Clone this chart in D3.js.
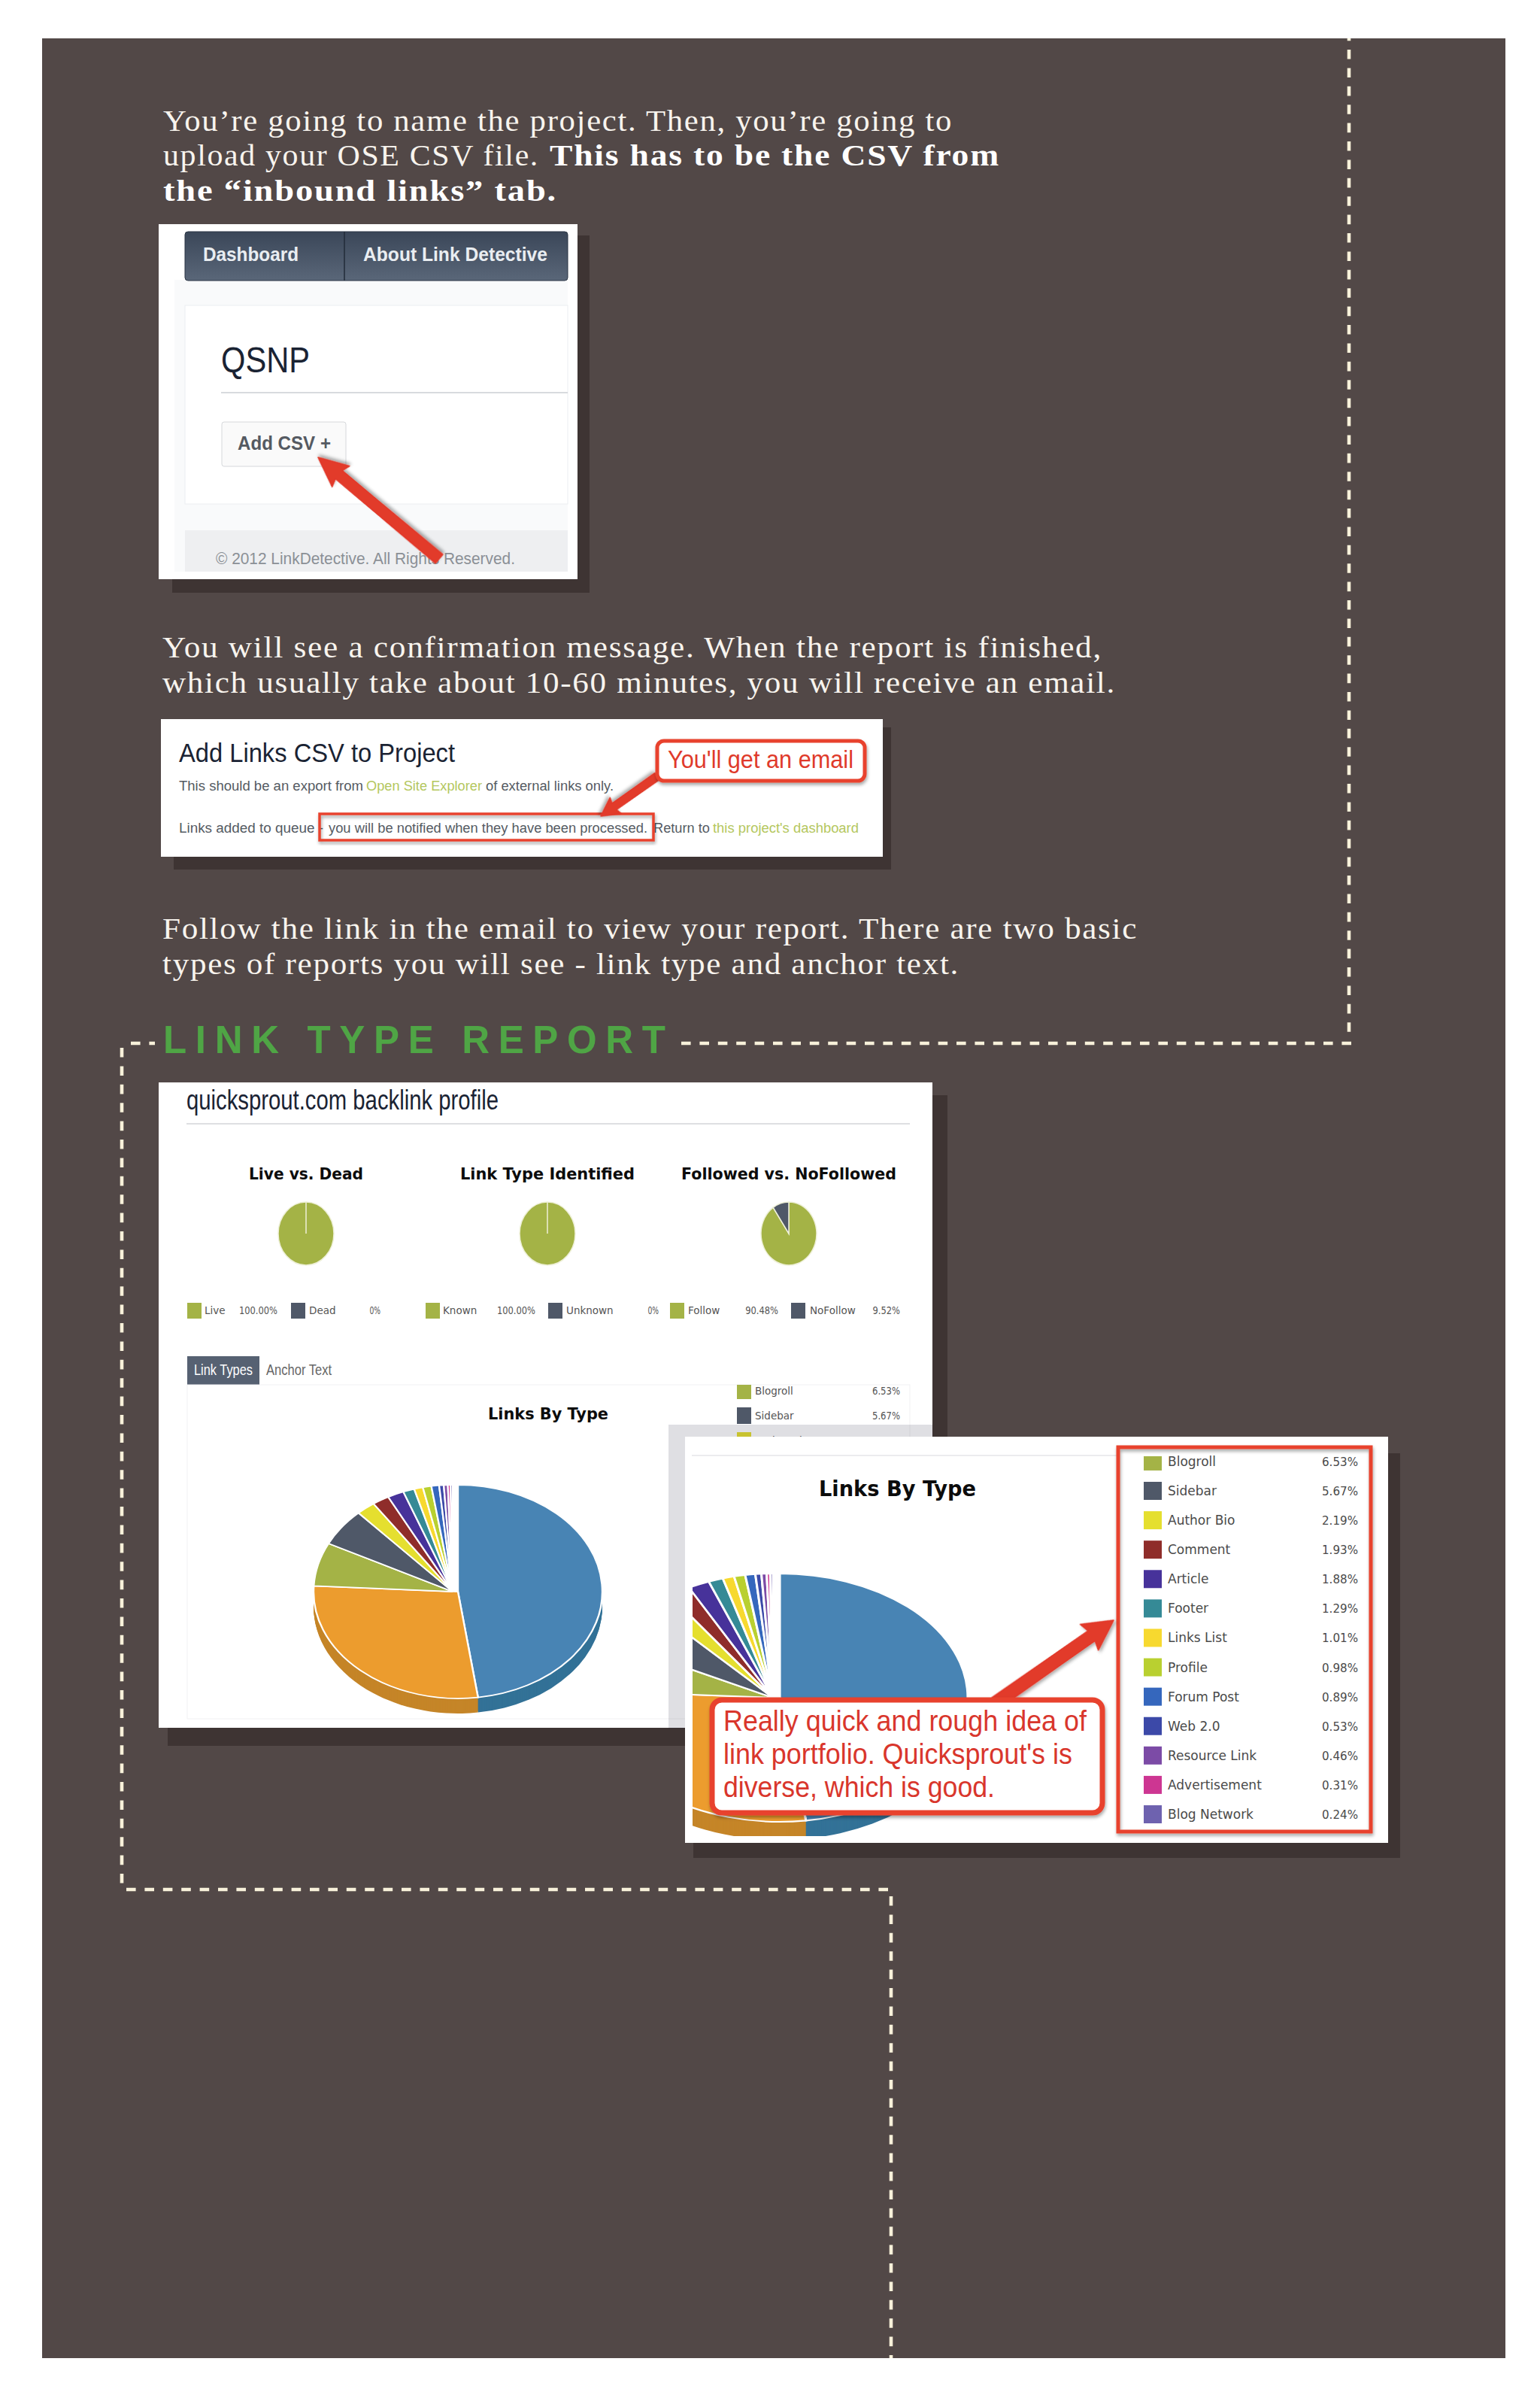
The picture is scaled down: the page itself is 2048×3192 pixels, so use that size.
<!DOCTYPE html>
<html><head><meta charset="utf-8">
<script src="https://cdnjs.cloudflare.com/ajax/libs/d3/7.8.5/d3.min.js"></script>
<style>html,body{margin:0;padding:0;background:#fff}svg{display:block}</style>
</head><body><div id="c"></div>
<script>
// ---------- data ----------
const pieCategories = ["Unlisted A","Unlisted B","Blogroll","Sidebar","Author Bio","Comment","Article","Footer","Links List","Profile","Forum Post","Web 2.0","Resource Link","Advertisement","Blog Network"];
const pieValues = [47.3,27.79,6.53,5.67,2.19,1.93,1.88,1.29,1.01,0.98,0.89,0.53,0.46,0.31,0.24];
const pieColors = ["#4884b4","#ec9c2e","#a4b346","#4f5868","#e5df2f","#8f2d2a","#47329a","#358a96","#f7d92f","#b9d030","#3567bd","#3c49a8","#7c4ba6","#cd3692","#6e62af"];
const sideColors = ["#337297","#c58528"];
const legendNames = pieCategories.slice(2);
const legendLabels = ["6.53%","5.67%","2.19%","1.93%","1.88%","1.29%","1.01%","0.98%","0.89%","0.53%","0.46%","0.31%","0.24%"];
const smallPieTitles = ["Live vs. Dead","Link Type Identified","Followed vs. NoFollowed"];
const smallPieValues = [[100,0],[100,0],[90.48,9.52]];
const smallPieNames = [["Live","Dead"],["Known","Unknown"],["Follow","NoFollow"]];
const smallPieLabels = [["100.00%","0%"],["100.00%","0%"],["90.48%","9.52%"]];
const smallPieColors = ["#a4b346","#4f5868"];

const BG="#524847", SH="#3e3433", CREAM="#f8f1da", RED="#e8432e";
const svg=d3.select("#c").append("svg").attr("width",2048).attr("height",3192);
const defs=svg.append("defs");
const fs=defs.append("filter").attr("id","soft").attr("x","-20%").attr("y","-20%").attr("width","140%").attr("height","140%");
fs.append("feDropShadow").attr("dx",1).attr("dy",3).attr("stdDeviation",2).attr("flood-color","#000").attr("flood-opacity",.35);
const tabGrad=defs.append("linearGradient").attr("id","tabg").attr("x1",0).attr("x2",0).attr("y1",0).attr("y2",1);
tabGrad.append("stop").attr("offset",0).attr("stop-color","#3a4658");
tabGrad.append("stop").attr("offset",1).attr("stop-color","#5a6779");
const clip2=defs.append("clipPath").attr("id","clip2");
clip2.append("rect").attr("x",921).attr("y",1936).attr("width",900).attr("height",505);
const clip3=defs.append("clipPath").attr("id","clip3");
clip3.append("rect").attr("x",980).attr("y",1841).attr("width",230).attr("height",444);

function rect(p,x,y,x2,y2,fill,extra){const r=p.append("rect").attr("x",x).attr("y",y).attr("width",x2-x).attr("height",y2-y).attr("fill",fill);if(extra)for(const k in extra)r.attr(k,extra[k]);return r;}
function text(p,s,x,y,o){const t=p.append("text").attr("x",x).attr("y",y).text(s).attr("font-family",o.f||"'Liberation Sans',sans-serif").attr("font-size",o.s).attr("fill",o.c||"#222");
 if(o.b)t.attr("font-weight","bold"); if(o.a)t.attr("text-anchor",o.a);
 if(o.l)t.attr("letter-spacing",o.l);
 if(o.w){t.attr("textLength",o.w).attr("lengthAdjust",o.adj||"spacingAndGlyphs");}
 return t;}
function arrow(p,x0,y0,x1,y1,w,hw,hl){ // tail -> tip, built along the axis
 const a=Math.atan2(y1-y0,x1-x0),L=Math.hypot(x1-x0,y1-y0);
 const g=p.append("g").attr("transform",`translate(${x0},${y0}) rotate(${a*180/Math.PI})`).attr("filter","url(#soft)");
 const l=d3.path();l.moveTo(0,-w*.55);l.lineTo(L-hl,-w/2);l.lineTo(L-hl*1.1,-hw);l.lineTo(L,0);l.lineTo(L-hl*1.1,hw);l.lineTo(L-hl,w/2);l.lineTo(0,w*.55);l.closePath();
 g.append("path").attr("d",l.toString()).attr("fill","#e23a2a").attr("stroke","#e23a2a").attr("stroke-width",1.5).attr("stroke-linejoin","round");
}

rect(svg,56,51,2002,3135,BG);

// dashed route: separate runs, so that corners stay open as in the picture
[[1794,51,1794,1373,9.4],[1797,1387,167,1387,0],[162,1393,162,2506,0],[168,2512,1182,2512,0],[1185,2521,1185,3135,0]].forEach(s=>{
 svg.append("line").attr("x1",s[0]).attr("y1",s[1]).attr("x2",s[2]).attr("y2",s[3])
  .attr("stroke",CREAM).attr("stroke-width",4.6).attr("stroke-dasharray","12.6 11.8").attr("stroke-dashoffset",s[4]);
});

// body copy
const serif="'Liberation Serif',serif", bodyS=41, bodyC="#f8f4ee", track=1.6;
const body=(s,x,y,w,bold)=>text(svg,s,x,y,{f:serif,s:bodyS,c:bold?"#fff":bodyC,b:bold,w:w,l:track});
body("You’re going to name the project. Then, you’re going to",217,174,1050);
body("upload your OSE CSV file.",217,220,500);
body("This has to be the CSV from",731,220,599,1);
body("the “inbound links” tab.",217,267,524,1);
body("You will see a confirmation message. When the report is finished,",216,874,1250);
body("which usually take about 10-60 minutes, you will receive an email.",216,921,1268);
body("Follow the link in the email to view your report. There are two basic",216,1248,1297);
body("types of reports you will see - link type and anchor text.",216,1295,1060);

// section heading (covers the dashes behind it)
rect(svg,206,1360,900,1405,BG);
text(svg,"LINK TYPE REPORT",217,1400,{s:51,b:1,c:"#4fa545",f:"'Liberation Sans',sans-serif",w:668,adj:"spacing"});

// ----- screenshot 1 -----
rect(svg,229,313,784,788,SH);
rect(svg,211,298,768,770,"#fff");
rect(svg,232,372,755,760,"#f9fafb");
rect(svg,246,308,755,373,"url(#tabg)",{rx:4,stroke:"#2b3544"});
svg.append("line").attr("x1",458).attr("x2",458).attr("y1",308).attr("y2",373).attr("stroke","#222b38").attr("stroke-width",1.5);
text(svg,"Dashboard",270,347,{s:25,b:1,c:"#e9edf1",w:127});
text(svg,"About Link Detective",483,347,{s:25,b:1,c:"#e9edf1",w:245});
rect(svg,246,406,755,670,"#fff",{stroke:"#eceef1"});
text(svg,"QSNP",294,495,{s:48,c:"#1a2333",w:118});
svg.append("line").attr("x1",294).attr("x2",755).attr("y1",522).attr("y2",522).attr("stroke","#d8dade").attr("stroke-width",2);
rect(svg,295,561,460,620,"#fafafa",{stroke:"#d6d8db",rx:3});
text(svg,"Add CSV +",316,598,{s:25,b:1,c:"#555a62",w:124});
rect(svg,246,705,755,760,"#eeeff1");
text(svg,"© 2012 LinkDetective. All Rights Reserved.",287,750,{s:22,c:"#8b9096",w:398});
arrow(svg,584,743,423,608,14,18,36);

// ----- screenshot 2 -----
rect(svg,231,967,1185,1156,SH);
rect(svg,214,956,1174,1139,"#fff");
text(svg,"Add Links CSV to Project",238,1013,{s:35,c:"#1a2333",w:367});
text(svg,"This should be an export from ",238,1051,{s:18,c:"#555b63",w:245});
text(svg,"Open Site Explorer",487,1051,{s:18,c:"#b4c75e",w:154});
text(svg,"of external links only.",646,1051,{s:18,c:"#555b63",w:170});
text(svg,"Links added to queue -",238,1107,{s:18,c:"#555b63",w:192});
text(svg,"you will be notified when they have been processed.",437,1107,{s:18,c:"#555b63",w:424});
text(svg,"Return to",869,1107,{s:18,c:"#555b63",w:75});
text(svg,"this project's dashboard",948,1107,{s:18,c:"#b4c75e",w:194});
rect(svg,425,1082,869,1117,"none",{stroke:RED,"stroke-width":3.5,filter:"url(#soft)"});
arrow(svg,874,1032,799,1085,10,13,22);
rect(svg,874,985,1150,1038,"#fff",{stroke:RED,"stroke-width":5,rx:9,filter:"url(#soft)"});
text(svg,"You'll get an email",888,1021,{s:34,c:"#df3a2b",w:247});

// ----- screenshot 3 -----
rect(svg,223,1456,1260,2321,SH);
rect(svg,211,1439,1240,2297,"#fff");
text(svg,"quicksprout.com backlink profile",248,1475,{s:36,c:"#1a2333",w:415});
svg.append("line").attr("x1",248).attr("x2",1210).attr("y1",1494).attr("y2",1494).attr("stroke","#dedfe2").attr("stroke-width",2);

const vera="'DejaVu Sans',sans-serif";
const titleX=d3.scalePoint().domain(smallPieTitles).range([407,1049]);
const titleW=[152,232,286];
const smallPie=d3.pie().sort(null);
const smallArc=d3.arc().innerRadius(0).outerRadius(37);
const legendSq=[[249,272,369,387,411,506],[566,589,712,729,753,876],[891,915,1035,1052,1077,1197]];
const pctW=s=>s.length*7.3;
smallPieTitles.forEach((t,i)=>{
 const cx=titleX(t);
 text(svg,t,cx,1568,{s:22,b:1,c:"#0c0c0c",f:vera,a:"middle",w:titleW[i]});
 const g=svg.append("g").attr("transform",`translate(${cx},1640) scale(1,${42/37})`);
 g.selectAll("path").data(smallPie(smallPieValues[i])).join("path").attr("d",smallArc)
  .attr("fill",(d,j)=>smallPieColors[j]).attr("stroke","#eef0d8").attr("stroke-width",1.5);
 const q=legendSq[i];
 rect(svg,q[0],1732,q[0]+19,1753,smallPieColors[0]);
 rect(svg,q[3],1732,q[3]+19,1753,smallPieColors[1]);
 text(svg,smallPieNames[i][0],q[1],1747,{s:13.5,f:vera,c:"#555"});
 text(svg,smallPieNames[i][1],q[4],1747,{s:13.5,f:vera,c:"#555"});
 text(svg,smallPieLabels[i][0],q[2],1747,{s:14,f:vera,c:"#555",a:"end",w:pctW(smallPieLabels[i][0])});
 text(svg,smallPieLabels[i][1],q[5],1747,{s:14,f:vera,c:"#555",a:"end",w:pctW(smallPieLabels[i][1])});
});
rect(svg,249,1803,345,1841,"#566172");
text(svg,"Link Types",258,1828,{s:20,c:"#fff",w:78});
text(svg,"Anchor Text",354,1828,{s:20,c:"#666",w:87});
rect(svg,249,1841,1210,2285,"none",{stroke:"#f1f1f3"});
text(svg,"Links By Type",729,1887,{s:22,b:1,c:"#0c0c0c",f:vera,a:"middle",w:160});

const miniRow=d3.scaleLinear().domain([0,1]).range([1849,1882]);
const miniLeg=svg.append("g").attr("clip-path","url(#clip3)");
legendNames.slice(0,3).forEach((n,i)=>{
 rect(miniLeg,980,miniRow(i)-11,999,miniRow(i)+11,pieColors[i+2]);
 text(miniLeg,n,1004,miniRow(i)+5,{s:13.5,f:vera,c:"#555"});
 text(miniLeg,legendLabels[i],1197,miniRow(i)+5,{s:14,f:vera,c:"#555",a:"end",w:37});
});

function bigPie(p,cx,cy,rx,ry,depth,gap){
 const sy=ry/rx;
 const slices=d3.pie().sort(null).startAngle(0).endAngle(2*Math.PI)(pieValues);
 const arc=d3.arc().innerRadius(0).outerRadius(rx);
 for(let k=depth;k>=1;k--){
  p.append("g").attr("transform",`translate(${cx},${cy+k}) scale(1,${sy})`)
   .selectAll("path").data(slices.slice(0,2)).join("path").attr("d",arc).attr("fill",(d,i)=>sideColors[i]);
 }
 const top=p.append("g").attr("transform",`translate(${cx},${cy}) scale(1,${sy})`);
 top.selectAll("path").data(slices).join("path").attr("d",arc)
  .attr("fill",(d,i)=>pieColors[i]).attr("stroke","#fff").attr("stroke-width",rx/80)
  .attr("transform",(d,i)=>i>=2?`translate(${-gap},0) scale(${(rx-gap)/rx},1)`:null);
}
bigPie(svg.append("g"),609,2116,192,142,20,7);

// ----- translucent veil + zoomed detail -----
rect(svg,889,1894,1240,2298,"#1c1c3c",{"fill-opacity":.14});
rect(svg,922,1932,1862,2470,SH);
rect(svg,911,1910,1846,2450,"#fff");
svg.append("line").attr("x1",920).attr("x2",1486).attr("y1",1935).attr("y2",1935).attr("stroke","#ececee").attr("stroke-width",2);
bigPie(svg.append("g").attr("clip-path","url(#clip2)"),1037,2257,250,165,24,9);
text(svg,"Links By Type",1089,1989,{s:28,b:1,c:"#0c0c0c",f:vera,w:209});

const rowY=d3.scaleLinear().domain([1,12]).range([1982,2412]);
const detail=svg.append("g").attr("clip-path","url(#clip2)");
legendNames.forEach((n,i)=>{
 const y=rowY(i);
 rect(detail,1521,y-12,1545,y+12,pieColors[i+2]);
 text(svg,n,1553,y+6,{s:17,f:vera,c:"#4a4a4a"});
 text(svg,legendLabels[i],1806,y+6,{s:16,f:vera,c:"#4a4a4a",a:"end",w:48});
});
rect(svg,1487,1924,1823,2435,"none",{stroke:RED,"stroke-width":5,filter:"url(#soft)"});

arrow(svg,1324,2264,1481,2154,16,21,36);
rect(svg,947,2260,1466,2410,"#fff",{stroke:RED,"stroke-width":7,rx:13,filter:"url(#soft)"});
text(svg,"Really quick and rough idea of",962,2301,{s:38,c:"#d9362c",w:483});
text(svg,"link portfolio. Quicksprout's is",962,2345,{s:38,c:"#d9362c",w:464});
text(svg,"diverse, which is good.",962,2389,{s:38,c:"#d9362c",w:361});
</script></body></html>
